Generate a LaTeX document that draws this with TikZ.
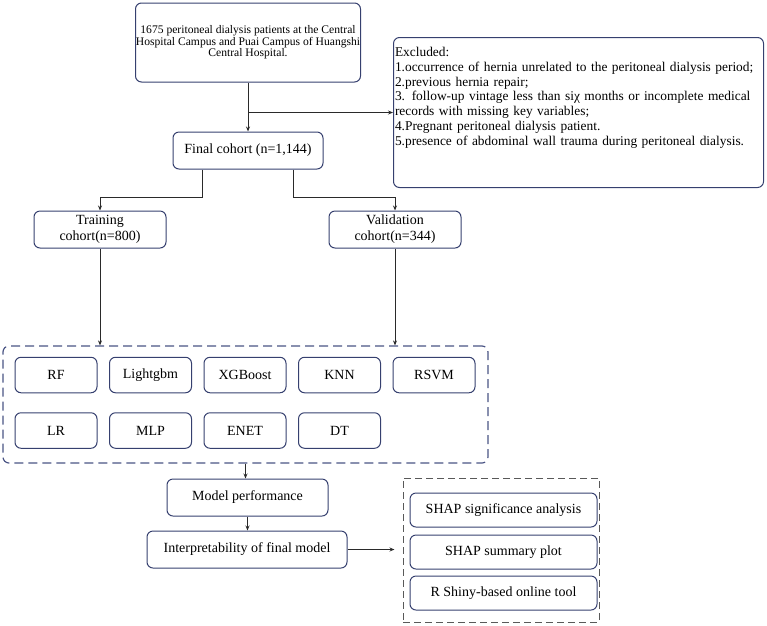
\documentclass[tikz,border=0pt]{standalone}
\usepackage{fontspec}
\setmainfont{Liberation Serif}
\usetikzlibrary{arrows.meta}
\definecolor{navy}{HTML}{36406F}
\definecolor{dashnavy}{HTML}{4A5484}
\definecolor{lineg}{HTML}{2A2A2A}
\tikzset{
  boxst/.style={draw=navy, line width=1pt, rounded corners=6pt, inner sep=0pt, align=center,
    font=\fontsize{14}{16}\selectfont, text=black},
  modelst/.style={boxst, minimum width=82pt, minimum height=35.5pt},
  shapst/.style={boxst, minimum width=187pt, minimum height=34pt},
  arr/.style={draw=lineg, line width=0.9pt, -{Stealth[length=5pt,width=4pt]}},
  groupst/.style={draw=dashnavy, line width=1.2pt, dash pattern=on 9pt off 5pt, rounded corners=6pt, inner sep=0pt},
  group2st/.style={draw=black!65, line width=1pt, dash pattern=on 7pt off 4pt, inner sep=0pt}
}
\begin{document}
\begin{tikzpicture}[x=1pt,y=-1pt]
\useasboundingbox (0,0) rectangle (767,625);

% top box
\node[boxst, minimum width=225pt, minimum height=79pt, font=\fontsize{11.6}{11.4}\selectfont] (top) at (248,42.5)
  {1675 peritoneal dialysis patients at the Central\\Hospital Campus and Puai Campus of Huangshi\\Central Hospital.};

% exclusion box
\node[boxst, anchor=north west, text width=367pt, inner xsep=1.5pt, inner ysep=0pt, align=left,
      text height=19pt, text depth=131pt, font=\fontsize{13.4}{14.8}\selectfont] (excl) at (393,37)
  {\mbox{Excluded:}\\
   \mbox{1.occurrence of hernia unrelated to the peritoneal dialysis period;}\\
   \mbox{2.previous hernia repair;}\\
   \mbox{3. follow-up vintage less than siχ months or incomplete medical}\\
   \mbox{records with missing key variables;}\\
   \mbox{4.Pregnant peritoneal dialysis patient.}\\
   \mbox{5.presence of abdominal wall trauma during peritoneal dialysis.}};

% final cohort
\node[boxst, minimum width=150pt, minimum height=37pt] (final) at (248,150.5) {Final cohort (n=1,144)};

% training / validation
\node[boxst, minimum width=132pt, minimum height=37pt] (train) at (100,229.5) {Training\\cohort(n=800)};
\node[boxst, minimum width=132pt, minimum height=37pt] (val) at (395,229.5) {Validation\\cohort(n=344)};

% models group
\node[groupst, minimum width=485pt, minimum height=117pt] (models) at (245.5,404.5) {};
\node[modelst] (rf)   at (56,375)    {RF};
\node[modelst] (lgb)  at (150.5,375) {Lightgbm};
\node[modelst] (xgb)  at (245,375)   {XGBoost};
\node[modelst] (knn)  at (339.5,375) {KNN};
\node[modelst] (rsvm) at (434,375)   {RSVM};
\node[modelst] (lr)   at (56,430.5)    {LR};
\node[modelst] (mlp)  at (150.5,430.5) {MLP};
\node[modelst] (enet) at (245,430.5)   {ENET};
\node[modelst] (dt)   at (339.5,430.5) {DT};

% performance / interpretability
\node[boxst, minimum width=161pt, minimum height=37pt] (perf) at (247.5,497.5) {Model performance};
\node[boxst, minimum width=200pt, minimum height=37pt] (interp) at (247,549.5) {Interpretability of final model};

% SHAP group
\node[group2st, minimum width=196pt, minimum height=144pt] (shapgrp) at (501,550) {};
\node[shapst] (shap1) at (503.5,510) {SHAP significance analysis};
\node[shapst] (shap2) at (503.5,552) {SHAP summary plot};
\node[shapst] (shap3) at (503.5,593) {R Shiny-based online tool};

% connectors
\draw[arr] (top.south) -- (final.north);
\draw[arr] (top.south |- excl.west) -- (excl.west);
\draw[arr] ([xshift=-46pt]final.south) -- ++(0,28) -| (train.north);
\draw[arr] ([xshift=45pt]final.south) -- ++(0,28) -| (val.north);
\draw[arr] (train.south) -- (train.south |- models.north);
\draw[arr] (val.south) -- (val.south |- models.north);
\draw[arr] (models.south) -- (models.south |- perf.north);
\draw[arr] (perf.south) -- (perf.south |- interp.north);
\coordinate (shapin) at ([xshift=-8pt]shapgrp.west |- interp.east);
\draw[arr] (interp.east) -- (shapin);
\end{tikzpicture}
\end{document}
